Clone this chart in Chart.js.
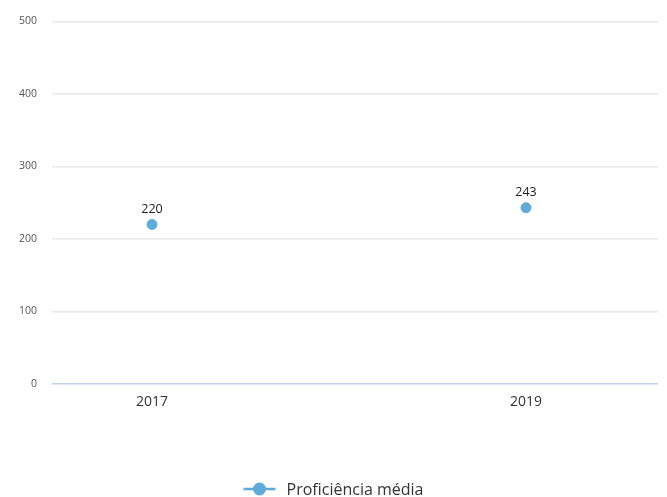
<!DOCTYPE html>
<html>
<head>
<meta charset="utf-8">
<script src="https://cdn.jsdelivr.net/npm/chart.js@4"></script>
<style>
  html, body { margin: 0; padding: 0; background: #fff; }
  #wrap { width: 667px; height: 497px; position: relative; }
</style>
</head>
<body>
<div id="wrap"><canvas id="grafico"></canvas></div>
<script>
// Datos del gráfico
const anos = [2017, 2019];
const proficiencia = [220, 243];
const ticksY = [0, 100, 200, 300, 400, 500];
const nomeSerie = 'Proficiência média';

const corPonto = '#5eaad8';

// Etiquetas de valor encima de los puntos
const etiquetasValor = {
    id: 'etiquetasValor',
    afterDatasetsDraw(chart) {
        const ctx = chart.ctx;
        const meta = chart.getDatasetMeta(0);
        ctx.save();
        ctx.font = '12.5px "Open Sans", sans-serif';
        ctx.fillStyle = '#222';
        ctx.textAlign = 'center';
        ctx.textBaseline = 'bottom';
        meta.data.forEach((pt, i) => {
            ctx.fillText(String(proficiencia[i]), pt.x, pt.y - 9);
        });
        ctx.restore();
    }
};

// Leyenda dibujada a mano: línea con círculo
const leyenda = {
    id: 'leyenda',
    afterDraw(chart) {
        const ctx = chart.ctx;
        ctx.save();
        ctx.font = '16px "Open Sans", sans-serif';
        const w = ctx.measureText(nomeSerie).width;
        const total = 32 + 11 + w;
        const x0 = (chart.width - total) / 2;
        const y = 489;
        ctx.strokeStyle = corPonto;
        ctx.lineWidth = 2.5;
        ctx.beginPath();
        ctx.moveTo(x0, y);
        ctx.lineTo(x0 + 32, y);
        ctx.stroke();
        ctx.fillStyle = corPonto;
        ctx.beginPath();
        ctx.arc(x0 + 16, y, 6.5, 0, Math.PI * 2);
        ctx.fill();
        ctx.fillStyle = '#333';
        ctx.textBaseline = 'middle';
        ctx.fillText(nomeSerie, x0 + 43, y + 1);
        ctx.restore();
    }
};

new Chart(document.getElementById('grafico'), {
    type: 'scatter',
    data: {
        datasets: [{
            label: nomeSerie,
            data: anos.map((a, i) => ({ x: a, y: proficiencia[i] })),
            backgroundColor: corPonto,
            borderColor: corPonto,
            pointRadius: 5,
            pointHoverRadius: 5,
            showLine: false
        }]
    },
    options: {
        responsive: true,
        maintainAspectRatio: false,
        animation: false,
        layout: { padding: { top: 19, right: 9, bottom: 83, left: 0 } },
        plugins: {
            legend: { display: false },
            tooltip: { enabled: false }
        },
        scales: {
            x: {
                type: 'linear',
                min: 2016.465,
                max: 2019.706,
                afterBuildTicks: s => { s.ticks = anos.map(v => ({ value: v })); },
                afterFit: s => { s.height = 30; },
                grid: { display: false },
                border: { display: false },
                ticks: {
                    padding: 2,
                    color: '#333',
                    font: { family: '"Open Sans", sans-serif', size: 14 },
                    callback: v => String(v)
                }
            },
            y: {
                min: 0,
                max: 500,
                afterBuildTicks: s => { s.ticks = ticksY.map(v => ({ value: v })); },
                afterFit: s => { s.width = 52; },
                border: { display: false },
                grid: {
                    drawTicks: false,
                    lineWidth: 1.5,
                    color: ctx => ctx.tick && ctx.tick.value === 0 ? '#bfd3ec' : '#e8e8e8'
                },
                ticks: {
                    padding: 15,
                    color: '#555',
                    font: { family: '"Open Sans", sans-serif', size: 10.5 },
                    callback: v => String(v)
                }
            }
        }
    },
    plugins: [etiquetasValor, leyenda]
});
</script>
</body>
</html>
